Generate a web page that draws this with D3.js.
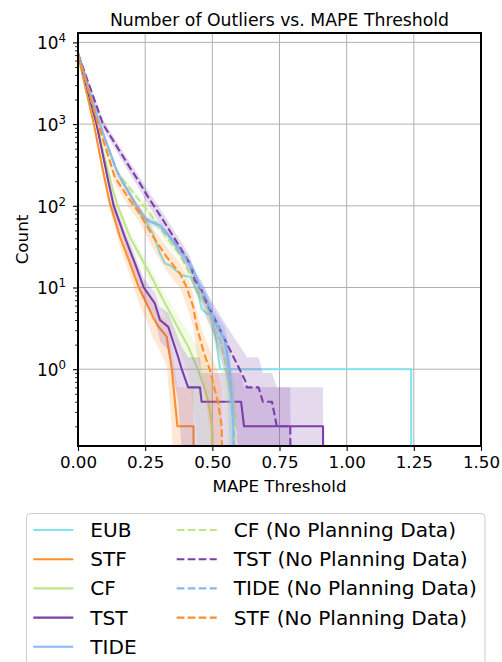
<!DOCTYPE html>
<html>
<head>
<meta charset="utf-8">
<script src="https://cdn.jsdelivr.net/npm/d3@7"></script>
<style>
  body { margin: 0; background: #fff; }
  text { font-family: "DejaVu Sans", sans-serif; fill: #000; }
</style>
</head>
<body>
<svg id="chart" width="502" height="662"></svg>
<script>
// ---- data ----
var xTicks = [0, 0.25, 0.5, 0.75, 1.0, 1.25, 1.5];
var yMajor = [1, 10, 100, 1000, 10000];

var eubX = [0, 0.081, 0.143, 0.199, 0.24, 0.261, 0.28, 0.305, 0.324, 0.342, 0.386, 0.418, 0.448, 0.46, 0.479, 0.498, 0.504, 0.516, 0.529, 1.24, 1.241];
var eubY = [7300, 1000, 273, 129, 70, 58, 45, 26, 19.6, 18.7, 14.1, 13.5, 8.4, 5.5, 4.8, 4.6, 3.3, 2.06, 1, 1, 0];

var stfX  = [0, 0.059, 0.09, 0.118, 0.156, 0.193, 0.226, 0.255, 0.278, 0.297, 0.33, 0.349, 0.37, 0.43, 0.432];
var stfY  = [7000, 1000, 300, 110, 42, 20, 10, 6.4, 4.4, 3.4, 2.5, 1.0, 0.2, 0.2, 0];
var stfSd = [300, 80, 40, 20, 10, 6, 3.5, 2.5, 2, 1.5, 1.4, 0.8, 0.4, 0.4, 0];

var cfX  = [0, 0.068, 0.13, 0.148, 0.193, 0.28, 0.311, 0.367, 0.411, 0.442, 0.47, 0.485, 0.5, 0.512];
var cfY  = [7200, 1000, 155, 100, 41.6, 12.3, 7.7, 3.45, 1.87, 1.07, 0.6, 0.4, 0.2, 0];
var cfSd = [300, 80, 20, 14, 7, 3, 2.2, 1.4, 1.0, 0.9, 0.8, 0.5, 0.4, 0];

var tstX  = [0, 0.069, 0.112, 0.133, 0.174, 0.212, 0.245, 0.286, 0.305, 0.336, 0.373, 0.386, 0.41, 0.454, 0.46, 0.607, 0.618, 0.912, 0.914];
var tstY  = [7400, 1000, 205, 100, 41.6, 19.7, 10, 6.4, 4.0, 3.3, 1.4, 1.0, 0.6, 0.6, 0.4, 0.4, 0.2, 0.2, 0];
var tstSd = [400, 100, 30, 18, 9, 5, 3, 2.2, 1.8, 1.6, 1.0, 0.9, 0.8, 0.8, 0.5, 0.5, 0.4, 0.4, 0];

var tideX  = [0, 0.081, 0.143, 0.162, 0.199, 0.218, 0.255, 0.305, 0.342, 0.398, 0.429, 0.448, 0.479, 0.504, 0.547, 0.56, 0.566, 0.572, 0.578, 0.582];
var tideY  = [7300, 1000, 273, 205, 129, 100, 66.5, 57.6, 41.6, 23.7, 16.3, 11.2, 7.0, 4.0, 2.26, 1.2, 0.8, 0.4, 0.2, 0];
var tideSd = [250, 60, 20, 15, 10, 8, 6, 5, 4, 3, 2.5, 2, 1.6, 1.3, 1.0, 0.8, 0.7, 0.5, 0.4, 0];

var cfNpX  = [0, 0.078, 0.149, 0.268, 0.32, 0.38, 0.442, 0.485, 0.51, 0.53, 0.549, 0.566, 0.578, 0.585, 0.59];
var cfNpY  = [7200, 1000, 248, 80, 45, 25, 10, 5.3, 3.0, 2.26, 1.17, 0.5, 0.4, 0.24, 0];
var cfNpSd = [300, 80, 25, 12, 7, 4, 2.5, 1.6, 1.2, 1.0, 0.8, 0.6, 0.5, 0.4, 0];

var tstNpX  = [0, 0.093, 0.199, 0.224, 0.261, 0.317, 0.379, 0.417, 0.435, 0.46, 0.479, 0.504, 0.554, 0.591, 0.622, 0.628, 0.672, 0.688, 0.722, 0.74, 0.79, 0.795];
var tstNpY  = [7300, 1000, 273, 205, 128, 66.5, 31.4, 19.6, 12.3, 9.3, 6.4, 4.5, 2.06, 1.17, 0.73, 0.6, 0.6, 0.4, 0.4, 0.2, 0.2, 0];
var tstNpSd = [500, 130, 45, 35, 25, 14, 7, 4.5, 3.2, 2.8, 2.2, 1.8, 1.3, 1.0, 0.8, 0.8, 0.8, 0.5, 0.5, 0.4, 0.4, 0];

var tideNpX  = [0, 0.08, 0.145, 0.2, 0.25, 0.3, 0.345, 0.4, 0.43, 0.45, 0.48, 0.505, 0.545, 0.558, 0.565, 0.572, 0.58, 0.585];
var tideNpY  = [7300, 1000, 265, 125, 70, 58, 40, 23, 16, 11, 7.2, 4.2, 2.4, 1.2, 0.8, 0.4, 0.2, 0];
var tideNpSd = [250, 60, 20, 10, 7, 6, 4, 3, 2.5, 2, 1.6, 1.3, 1.0, 0.8, 0.7, 0.5, 0.4, 0];

var stfNpX  = [0, 0.075, 0.137, 0.193, 0.23, 0.28, 0.33, 0.38, 0.404, 0.429, 0.442, 0.466, 0.491, 0.51, 0.522, 0.535, 0.542];
var stfNpY  = [7200, 1000, 225, 117, 80, 41.6, 23.7, 14.8, 10.1, 5.8, 3.3, 1.7, 0.97, 0.55, 0.38, 0.2, 0];
var stfNpSd = [500, 120, 40, 25, 18, 12, 8, 5, 4, 2.5, 1.8, 1.0, 0.8, 0.6, 0.5, 0.4, 0];

var colEUB = "#80e4ec", colSTF = "#ff8f2b", colCF = "#c0e58a", colTST = "#7b3fa8", colTIDE = "#86b9f2";

var series = [
  {name: "EUB", color: colEUB, dash: null, x: eubX, y: eubY, sd: null},
  {name: "STF", color: colSTF, dash: null, x: stfX, y: stfY, sd: stfSd},
  {name: "CF", color: colCF, dash: null, x: cfX, y: cfY, sd: cfSd},
  {name: "TST", color: colTST, dash: null, x: tstX, y: tstY, sd: tstSd},
  {name: "TIDE", color: colTIDE, dash: null, x: tideX, y: tideY, sd: tideSd},
  {name: "CF (No Planning Data)", color: colCF, dash: "7.7,3.3", x: cfNpX, y: cfNpY, sd: cfNpSd},
  {name: "TST (No Planning Data)", color: colTST, dash: "7.7,3.3", x: tstNpX, y: tstNpY, sd: tstNpSd},
  {name: "TIDE (No Planning Data)", color: colTIDE, dash: "7.7,3.3", x: tideNpX, y: tideNpY, sd: tideNpSd},
  {name: "STF (No Planning Data)", color: colSTF, dash: "7.7,3.3", x: stfNpX, y: stfNpY, sd: stfNpSd}
];

// ---- layout ----
var pL = 78, pR = 481, pT = 33, pB = 446;
var floorV = 1e-3; // zero counts fall off the log axis

var svg = d3.select("#chart");
var x = d3.scaleLinear().domain([0, 1.5]).range([pL, pR]);
var y = d3.scaleLog().domain([Math.pow(10, -0.94), Math.pow(10, 4.115)]).range([pB, pT]);

svg.append("defs").append("clipPath").attr("id", "plotclip")
  .append("rect").attr("x", pL).attr("y", pT).attr("width", pR - pL).attr("height", pB - pT);

// grid
var grid = svg.append("g");
xTicks.forEach(function (t) {
  grid.append("line").attr("x1", x(t)).attr("x2", x(t)).attr("y1", pT).attr("y2", pB)
    .attr("stroke", "#b0b0b0").attr("stroke-width", 1);
});
yMajor.forEach(function (t) {
  grid.append("line").attr("x1", pL).attr("x2", pR).attr("y1", y(t)).attr("y2", y(t))
    .attr("stroke", "#b0b0b0").attr("stroke-width", 1);
});

// data
var plot = svg.append("g").attr("clip-path", "url(#plotclip)");

series.forEach(function (s) {
  var pts = s.x.map(function (xv, i) {
    return {x: xv, y: s.y[i], sd: s.sd ? s.sd[i] : 0};
  });
  if (s.sd) {
    var area = d3.area()
      .x(function (d) { return x(d.x); })
      .y0(function (d) { return y(Math.max(d.y - d.sd, floorV)); })
      .y1(function (d) { return y(Math.max(d.y + d.sd, floorV)); });
    plot.append("path").datum(pts).attr("d", area)
      .attr("fill", s.color).attr("fill-opacity", 0.2).attr("stroke", "none");
  }
  var line = d3.line()
    .x(function (d) { return x(d.x); })
    .y(function (d) { return y(Math.max(d.y, floorV)); });
  plot.append("path").datum(pts).attr("d", line)
    .attr("fill", "none").attr("stroke", s.color).attr("stroke-width", 2.1)
    .attr("stroke-linejoin", "round")
    .attr("stroke-dasharray", s.dash);
});

// axes
var xAxis = d3.axisBottom(x).tickValues(xTicks).tickSize(5).tickPadding(5)
  .tickFormat(d3.format(".2f"));
var gx = svg.append("g").attr("transform", "translate(0," + pB + ")").call(xAxis);
gx.select(".domain").remove();
gx.selectAll(".tick line").attr("stroke", "#000").attr("stroke-width", 1.1);
gx.selectAll("text").style("font-size", "16.7px").style("font-family", "DejaVu Sans");

var minor = [];
for (var e = -1; e <= 4; e++) {
  for (var k = 2; k <= 9; k++) {
    var v = k * Math.pow(10, e);
    if (v >= y.domain()[0] && v <= y.domain()[1]) minor.push(v);
  }
}
var gyMinor = svg.append("g").attr("transform", "translate(" + pL + ",0)")
  .call(d3.axisLeft(y).tickValues(minor).tickSize(3).tickFormat(""));
gyMinor.select(".domain").remove();
gyMinor.selectAll(".tick line").attr("stroke", "#000").attr("stroke-width", 0.8);

var gy = svg.append("g").attr("transform", "translate(" + pL + ",0)")
  .call(d3.axisLeft(y).tickValues(yMajor).tickSize(5).tickFormat(""));
gy.select(".domain").remove();
gy.selectAll(".tick line").attr("stroke", "#000").attr("stroke-width", 1.1);
gy.selectAll(".tick").each(function (d) {
  var t = d3.select(this).append("text")
    .attr("x", -12).attr("y", 6.5).attr("text-anchor", "end")
    .style("font-size", "16.9px");
  t.append("tspan").text("10");
  t.append("tspan").attr("dy", -7).style("font-size", "11.8px").text(String(Math.round(Math.log10(d))));
});

// frame
svg.append("rect").attr("x", pL).attr("y", pT).attr("width", pR - pL).attr("height", pB - pT)
  .attr("fill", "none").attr("stroke", "#000").attr("stroke-width", 2);

// titles
svg.append("text").attr("x", (pL + pR) / 2).attr("y", 26).attr("text-anchor", "middle")
  .style("font-size", "17.3px").text("Number of Outliers vs. MAPE Threshold");
svg.append("text").attr("x", (pL + pR) / 2).attr("y", 492).attr("text-anchor", "middle")
  .style("font-size", "16.7px").text("MAPE Threshold");
svg.append("text").attr("transform", "translate(28," + ((pT + pB) / 2) + ") rotate(-90)")
  .attr("text-anchor", "middle").style("font-size", "16.7px").text("Count");

// legend
var lg = svg.append("g");
lg.append("rect").attr("x", 26.5).attr("y", 513.5).attr("width", 458.5).attr("height", 170)
  .attr("rx", 4).attr("fill", "#fff").attr("fill-opacity", 0.8)
  .attr("stroke", "#cccccc").attr("stroke-width", 1);
var colX = [33.3, 176.7];
series.forEach(function (s, i) {
  var col = i < 5 ? 0 : 1;
  var row = i < 5 ? i : i - 5;
  var cy = 530 + row * 29.2;
  lg.append("line").attr("x1", colX[col]).attr("x2", colX[col] + 40).attr("y1", cy).attr("y2", cy)
    .attr("stroke", s.color).attr("stroke-width", 2.1).attr("stroke-dasharray", s.dash);
  lg.append("text").attr("x", colX[col] + 57).attr("y", cy + 7)
    .style("font-size", "20.1px").text(s.name);
});
</script>
</body>
</html>
